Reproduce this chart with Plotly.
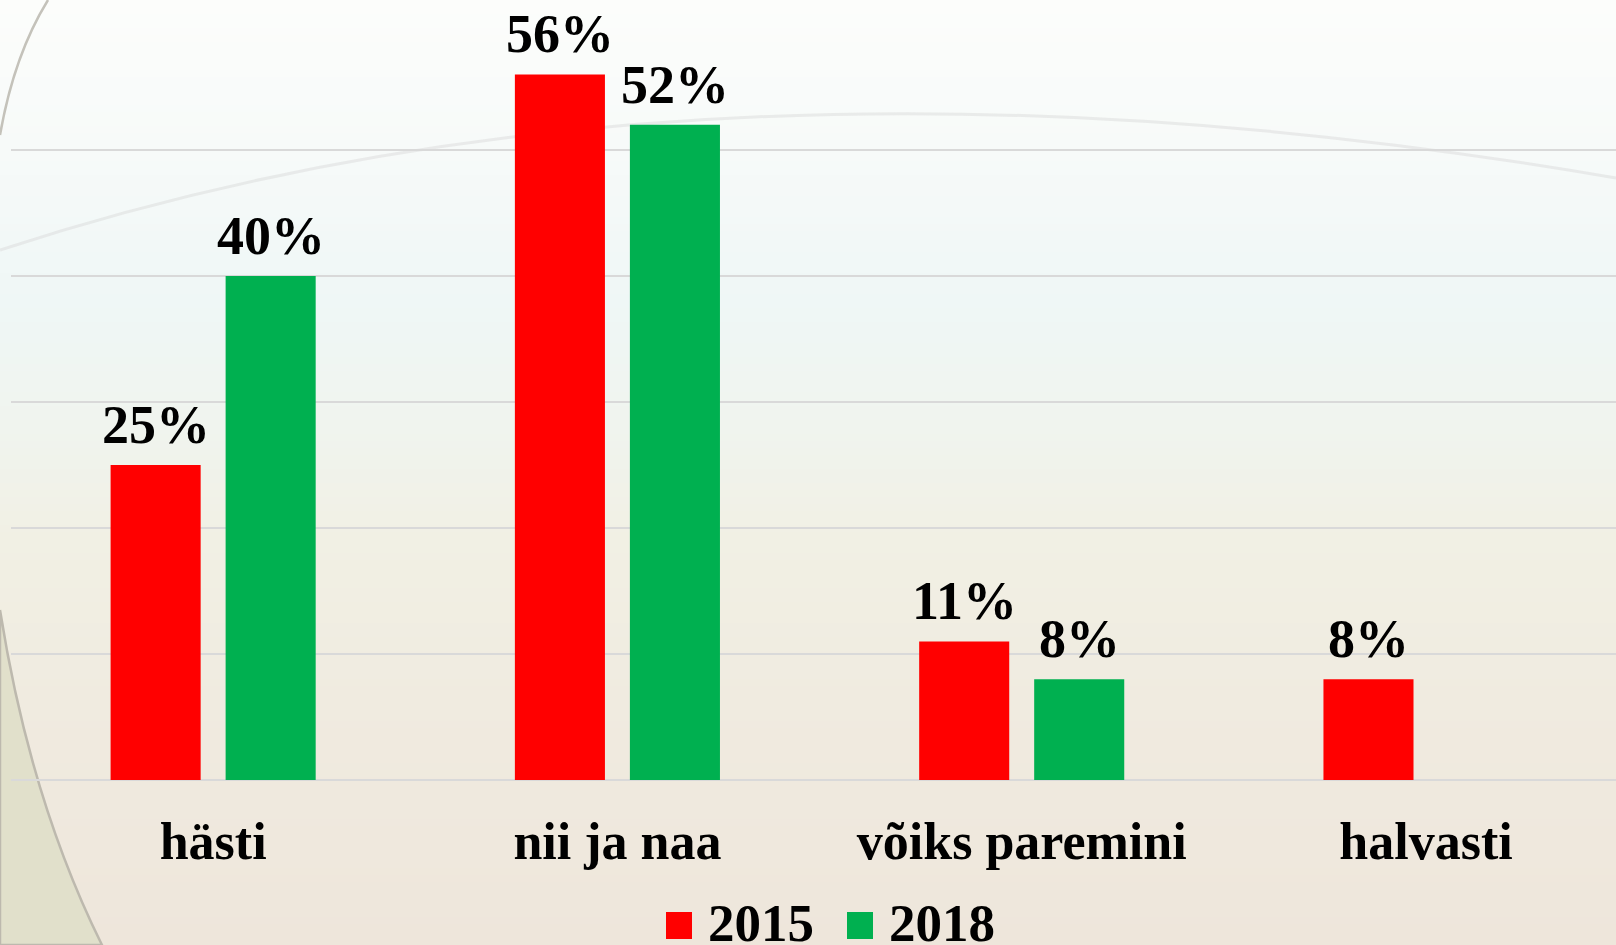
import plotly.graph_objects as go

categories = ["hästi", "nii ja naa", "võiks paremini", "halvasti"]
series_names = ["2015", "2018"]
values_2015 = [25, 56, 11, 8]
values_2018 = [40, 52, 8, None]
colors = ["#FF0000", "#00B050"]

W, H = 1616, 945
ML, MR, MT, MB = 11, 0, 24, 165
PW, PH = W - ML - MR, H - MT - MB
XRANGE = [-0.5, 3.47]
BARGAP, GROUPGAP = 0.431, 0.217


def px(x):
    return (x - ML) / PW


def py(y):
    return (H - MB - y) / PH


FONT = "Liberation Serif"

fig = go.Figure()
for name, vals, col in zip(series_names, [values_2015, values_2018], colors):
    fig.add_trace(go.Bar(
        x=categories, y=vals, name=name,
        marker=dict(color=col, line=dict(width=0)),
        showlegend=False,
    ))

# value labels, placed above each bar (offset to the bar's slot within the group)
cat_px = PW / (XRANGE[1] - XRANGE[0])
slot_px = cat_px * (1 - BARGAP) / 2
annotations = []
for si, vals in enumerate([values_2015, values_2018]):
    shift = (si - 0.5) * slot_px
    for cat, v in zip(categories, vals):
        if v is None:
            continue
        annotations.append(dict(x=cat, y=v, xref="x", yref="y", showarrow=False,
                                xanchor="center", yanchor="bottom", xshift=shift, yshift=8,
                                text="<b>%d%%</b>" % v,
                                font=dict(family=FONT, size=54, color="black")))


def hexrgb(h):
    h = h.lstrip("#")
    return tuple(int(h[i:i + 2], 16) for i in (0, 2, 4))


stops = [(0, "#FCFDFB"), (150, "#F7FAF9"), (300, "#EFF7F6"), (430, "#F0F4EE"),
         (540, "#F1F0E4"), (700, "#F0EBE0"), (945, "#EEE6DB")]


def col_at(y):
    for (y0, c0), (y1, c1) in zip(stops[:-1], stops[1:]):
        if y0 <= y <= y1:
            t = (y - y0) / (y1 - y0)
            a, b = hexrgb(c0), hexrgb(c1)
            return "rgb(%d,%d,%d)" % tuple(round(a[i] + (b[i] - a[i]) * t) for i in range(3))
    return stops[-1][1]


shapes = []
step = 7
for y in range(0, H, step):
    shapes.append(dict(type="rect", xref="paper", yref="paper", layer="below",
                       x0=px(0), x1=px(W), y0=py(y), y1=py(y + step + 1),
                       fillcolor=col_at(y + step / 2), line=dict(width=0)))

# decorative arcs
shapes.append(dict(type="path", xref="paper", yref="paper", layer="below",
                   path="M %f,%f Q %f,%f %f,%f L %f,%f Z" % (
                       px(0), py(610), px(30), py(800), px(102), py(945), px(0), py(945)),
                   fillcolor="#E1E0CB", line=dict(color="#BDB9AE", width=2.5)))
shapes.append(dict(type="path", xref="paper", yref="paper", layer="below",
                   path="M %f,%f Q %f,%f %f,%f" % (
                       px(48), py(0), px(14), py(55), px(0), py(135)),
                   line=dict(color="#C4C2BA", width=2.5)))
shapes.append(dict(type="path", xref="paper", yref="paper", layer="below",
                   path="M %f,%f Q %f,%f %f,%f" % (
                       px(0), py(250), px(700), py(20), px(1616), py(178)),
                   line=dict(color="rgba(215,215,215,0.45)", width=3)))

# legend (custom, large squares)
legend_items = [(666, 706, "2015", colors[0]), (847, 887, "2018", colors[1])]
for sx, tx, label, col in legend_items:
    shapes.append(dict(type="rect", xref="paper", yref="paper",
                       x0=px(sx), x1=px(sx + 26), y0=py(912), y1=py(939),
                       fillcolor=col, line=dict(width=0)))
    annotations.append(dict(xref="paper", yref="paper", x=px(tx), y=py(923),
                            xanchor="left", yanchor="middle", showarrow=False,
                            text="<b>%s</b>" % label,
                            font=dict(family=FONT, size=53, color="black")))

fig.update_layout(
    width=W, height=H,
    margin=dict(l=ML, r=MR, t=MT, b=MB, pad=0),
    paper_bgcolor="#EEE6DB", plot_bgcolor="rgba(0,0,0,0)",
    barmode="group", bargap=BARGAP, bargroupgap=GROUPGAP,
    showlegend=False,
    shapes=shapes, annotations=annotations,
    xaxis=dict(range=XRANGE, showgrid=False, zeroline=False, showline=False,
               ticks="", ticklabelstandoff=26,
               tickfont=dict(family=FONT, size=52, color="black")),
    yaxis=dict(range=[0, 60], dtick=10, showticklabels=False, showgrid=True,
               gridcolor="#D9D9D9", gridwidth=1.5, zeroline=True,
               zerolinecolor="#D9D9D9", zerolinewidth=1.5, showline=False),
)
fig.update_xaxes(tickvals=categories, ticktext=["<b>%s</b>" % c for c in categories])

fig.write_html("out.html", config={"displayModeBar": False},
               post_script="document.body.style.margin='0px';document.body.style.overflow='hidden';")
